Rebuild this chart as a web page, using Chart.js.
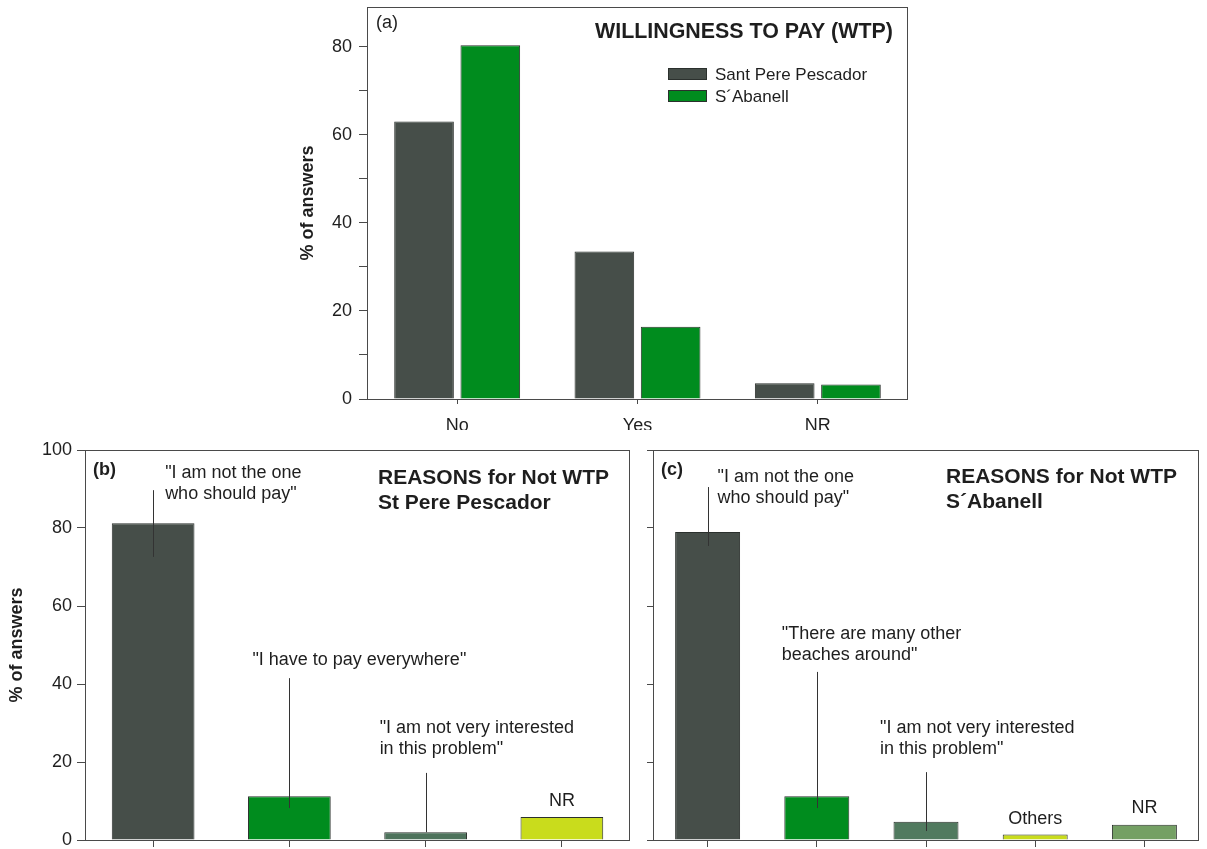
<!DOCTYPE html>
<html>
<head>
<meta charset="utf-8">
<script src="https://cdn.jsdelivr.net/npm/chart.js@4.4.1/dist/chart.umd.min.js"></script>
<style>
  html, body { margin: 0; padding: 0; background: #ffffff; }
  body { width: 1207px; height: 849px; position: relative; overflow: hidden; }
  canvas { position: absolute; }
  #wtp { left: 290px; top: 0; }
  #reasonsSPP { left: 0; top: 430px; }
  #reasonsSA { left: 640px; top: 430px; }
</style>
</head>
<body>
<canvas id="wtp" width="630" height="430"></canvas>
<canvas id="reasonsSPP" width="640" height="419"></canvas>
<canvas id="reasonsSA" width="567" height="419"></canvas>
<script>
// ---- data ----
const wtpCategories = ['No', 'Yes', 'NR'];
const wtpSeriesNames = ['Sant Pere Pescador', 'S\u00B4Abanell'];
const wtpSantPere = [63.0, 33.5, 3.6];
const wtpSAbanell = [80.3, 16.4, 3.3];
const wtpTickValues = [0, 10, 20, 30, 40, 50, 60, 70, 80];

const sppReasons = [
  ['"I am not the one', 'who should pay"'],
  ['"I have to pay everywhere"'],
  ['"I am not very interested', 'in this problem"'],
  ['NR']
];
const sppValues = [81.2, 11.2, 2.0, 5.9];

const saReasons = [
  ['"I am not the one', 'who should pay"'],
  ['"There are many other', 'beaches around"'],
  ['"I am not very interested', 'in this problem"'],
  ['Others'],
  ['NR']
];
const saValues = [79.0, 11.2, 4.7, 1.4, 3.9];

const reasonTickValues = [0, 20, 40, 60, 80, 100];

// ---- styling ----
const FONT = '"Liberation Sans", Arial, Helvetica, sans-serif';
const INK = '#1e1e1e';
const AXIS = '#4a4a4a';
const DARK = '#464e49';
const GREEN = '#008c1e';
const sppColors = [DARK, GREEN, '#4e735c', '#c9dc1c'];
const saColors = [DARK, GREEN, '#517a5f', '#c9dc1c', '#74a064'];

Chart.defaults.font.family = FONT;
Chart.defaults.color = INK;

// Plot frame around the chart area
const framePlugin = {
  id: 'frame',
  afterDatasetsDraw(chart) {
    const { ctx, chartArea: a } = chart;
    ctx.save();
    ctx.strokeStyle = AXIS;
    ctx.lineWidth = 1;
    ctx.strokeRect(Math.round(a.left) + 0.5, Math.round(a.top) + 0.5,
                   Math.round(a.right - a.left) - 1, Math.round(a.bottom - a.top));
    ctx.restore();
  }
};

// Free text (panel letters, headings, legend) placed relative to the chart area
const panelTextPlugin = {
  id: 'panelText',
  afterDraw(chart, args, opts) {
    const { ctx, chartArea: a } = chart;
    ctx.save();
    (opts.items || []).forEach(it => {
      ctx.font = it.font;
      ctx.fillStyle = INK;
      ctx.textAlign = it.align || 'left';
      ctx.textBaseline = 'middle';
      ctx.fillText(it.text, a.left + it.dx, a.top + it.dy);
    });
    if (opts.legend) {
      const L = opts.legend;
      chart.data.datasets.forEach((ds, k) => {
        const y = a.top + L.dy + k * L.step;
        ctx.fillStyle = ds.backgroundColor;
        ctx.fillRect(a.left + L.dx, y, L.boxW, L.boxH);
        ctx.strokeStyle = BAR_EDGE;
        ctx.lineWidth = 1;
        ctx.strokeRect(a.left + L.dx + 0.5, y + 0.5, L.boxW - 1, L.boxH - 1);
        ctx.fillStyle = INK;
        ctx.font = L.font;
        ctx.textAlign = 'left';
        ctx.textBaseline = 'middle';
        ctx.fillText(ds.label, a.left + L.textDx, y + L.boxH / 2 + 1);
      });
    }
    ctx.restore();
  }
};

// Category captions with leader lines, positioned through the chart scales
const captionPlugin = {
  id: 'captions',
  afterDatasetsDraw(chart, args, opts) {
    const { ctx } = chart;
    const xs = chart.scales.x, ys = chart.scales.y;
    ctx.save();
    (opts.items || []).forEach((it, i) => {
      const cx = xs.getPixelForValue(i);
      if (it.line) {
        ctx.strokeStyle = '#333';
        ctx.lineWidth = 1;
        ctx.beginPath();
        ctx.moveTo(Math.round(cx) + 0.5, ys.getPixelForValue(it.line[0]));
        ctx.lineTo(Math.round(cx) + 0.5, ys.getPixelForValue(it.line[1]));
        ctx.stroke();
      }
      const lines = chart.data.labels[i];
      ctx.font = opts.font;
      ctx.fillStyle = INK;
      ctx.textAlign = it.align;
      ctx.textBaseline = 'middle';
      const y0 = ys.getPixelForValue(it.textAt);
      lines.forEach((t, j) => ctx.fillText(t, cx + it.dx, y0 + j * opts.lineGap));
    });
    ctx.restore();
  }
};

const BAR_EDGE = '#2b302d';

// ---- (a) willingness to pay ----
new Chart(document.getElementById('wtp'), {
  type: 'bar',
  data: {
    labels: wtpCategories,
    datasets: [
      { label: wtpSeriesNames[0], data: wtpSantPere, backgroundColor: DARK, borderColor: BAR_EDGE, borderWidth: 1,
        categoryPercentage: 0.735, barPercentage: 0.9 },
      { label: wtpSeriesNames[1], data: wtpSAbanell, backgroundColor: GREEN, borderColor: BAR_EDGE, borderWidth: 1,
        categoryPercentage: 0.735, barPercentage: 0.9 }
    ]
  },
  options: {
    responsive: false, animation: false, devicePixelRatio: 1,
    layout: { padding: { top: 7, right: 12, left: 0, bottom: 0 } },
    plugins: {
      legend: { display: false }, tooltip: { enabled: false },
      panelText: {
        items: [
          { text: '(a)', dx: 9, dy: 16, font: '18px ' + FONT },
          { text: 'WILLINGNESS TO PAY (WTP)', dx: 228, dy: 25, font: 'bold 21.4px ' + FONT }
        ],
        legend: { dx: 301, dy: 61, step: 22, boxW: 39, boxH: 12, textDx: 348, font: '17px ' + FONT }
      }
    },
    scales: {
      x: {
        border: { display: false },
        grid: { drawOnChartArea: false, offset: false, tickLength: 5, color: AXIS, tickColor: AXIS },
        ticks: { font: { size: 18 }, color: INK, padding: 11 },
        afterFit(s) { s.height = 31; s.paddingLeft = 0; s.paddingRight = 0; }
      },
      y: {
        min: 0, max: 89,
        border: { display: false },
        afterBuildTicks(s) { s.ticks = wtpTickValues.map(v => ({ value: v })); },
        grid: { drawOnChartArea: false, tickLength: 8, tickColor: AXIS },
        ticks: { font: { size: 18 }, color: INK, padding: 7, callback: v => (v % 20 === 0 ? String(v) : '') },
        title: { display: true, text: '% of answers', font: { size: 18, weight: 'bold' }, color: INK, padding: { top: 7, bottom: 0 } },
        afterFit(s) { s.width = 77; s.paddingTop = 0; s.paddingBottom = 0; }
      }
    }
  },
  plugins: [framePlugin, panelTextPlugin]
});

// ---- (b) and (c) reasons for not paying ----
function reasonsChart(id, labels, values, colors, cfg) {
  return new Chart(document.getElementById(id), {
    type: 'bar',
    data: {
      labels: labels,
      datasets: [{ data: values, backgroundColor: colors, borderColor: BAR_EDGE, borderWidth: 1,
                   categoryPercentage: 1, barPercentage: cfg.barPct }]
    },
    options: {
      responsive: false, animation: false, devicePixelRatio: 1,
      layout: { padding: { top: 20, right: cfg.padRight, left: 0, bottom: 0 } },
      plugins: {
        legend: { display: false }, tooltip: { enabled: false },
        panelText: { items: cfg.texts },
        captions: { items: cfg.captions, font: '18px ' + FONT, lineGap: 21 }
      },
      scales: {
        x: {
          border: { display: false },
          grid: { drawOnChartArea: false, offset: false, tickLength: 7, tickColor: AXIS },
          ticks: { callback: () => '' },
          afterFit(s) { s.height = 9; s.paddingLeft = 0; s.paddingRight = 0; }
        },
        y: {
          min: 0, max: 100,
          border: { display: false },
          afterBuildTicks(s) { s.ticks = reasonTickValues.map(v => ({ value: v })); },
          grid: { drawOnChartArea: false, tickLength: cfg.showY ? 8 : 6, tickColor: AXIS },
          ticks: { font: { size: 18 }, color: INK, padding: 5, callback: v => (cfg.showY ? String(v) : '') },
          title: { display: cfg.showY, text: '% of answers', font: { size: 18, weight: 'bold' }, color: INK, padding: { top: 6, bottom: 0 } },
          afterFit(s) { s.width = cfg.yWidth; s.paddingTop = 0; s.paddingBottom = 0; }
        }
      }
    },
    plugins: [framePlugin, panelTextPlugin, captionPlugin]
  });
}

reasonsChart('reasonsSPP', sppReasons, sppValues, sppColors, {
  barPct: 0.607, padRight: 10, yWidth: 85, showY: true,
  texts: [
    { text: '(b)', dx: 8, dy: 20, font: 'bold 18px ' + FONT },
    { text: 'REASONS for Not WTP', dx: 293, dy: 28, font: 'bold 21px ' + FONT },
    { text: 'St Pere Pescador', dx: 293, dy: 53, font: 'bold 21px ' + FONT }
  ],
  captions: [
    { line: [89.7, 72.6], textAt: 94.1, dx: 12, align: 'left' },
    { line: [41.5, 8.2], textAt: 46.2, dx: -37, align: 'left' },
    { line: [17.2, 2.0], textAt: 28.7, dx: -46, align: 'left' },
    { textAt: 10.0, dx: 0, align: 'center' }
  ]
});

reasonsChart('reasonsSA', saReasons, saValues, saColors, {
  barPct: 0.595, padRight: 8, yWidth: 13, showY: false,
  texts: [
    { text: '(c)', dx: 8, dy: 20, font: 'bold 18px ' + FONT },
    { text: 'REASONS for Not WTP', dx: 293, dy: 27, font: 'bold 21px ' + FONT },
    { text: 'S\u00B4Abanell', dx: 293, dy: 52, font: 'bold 21px ' + FONT }
  ],
  captions: [
    { line: [90.5, 75.4], textAt: 93.1, dx: 10, align: 'left' },
    { line: [43.1, 8.2], textAt: 52.8, dx: -35, align: 'left' },
    { line: [17.4, 2.3], textAt: 28.7, dx: -46, align: 'left' },
    { textAt: 5.4, dx: 0, align: 'center' },
    { textAt: 8.2, dx: 0, align: 'center' }
  ]
});
</script>
</body>
</html>
